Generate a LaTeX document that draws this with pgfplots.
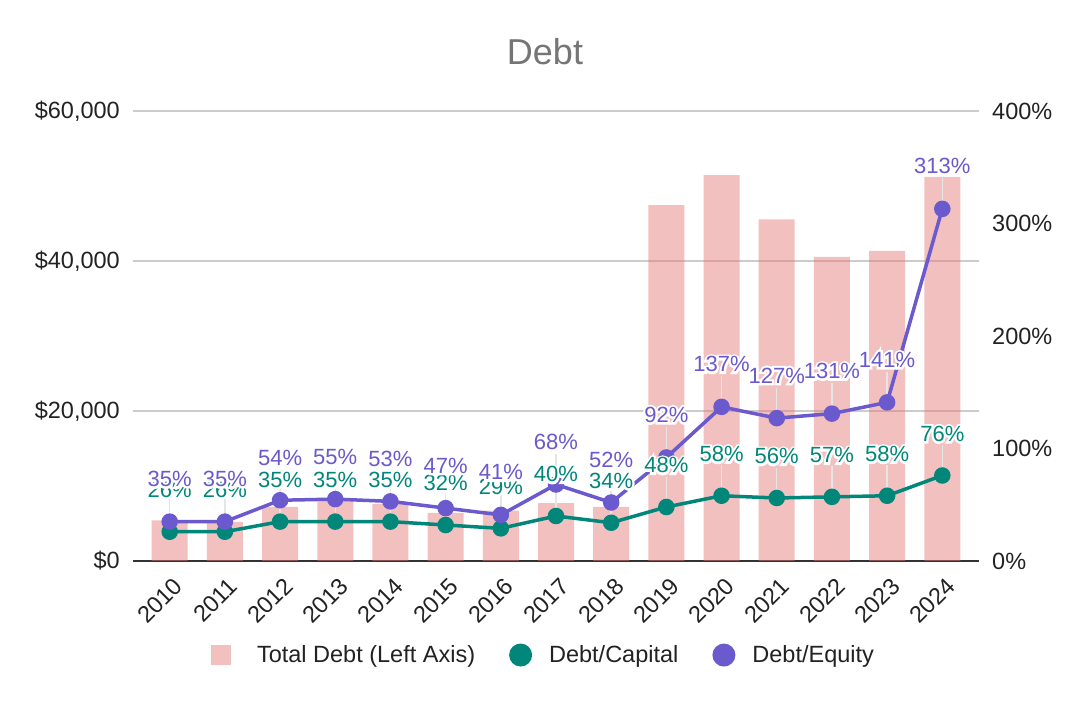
\documentclass[border=0pt]{standalone}
\usepackage{pgfplots}
\usepackage{pgfplotstable}
\pgfplotsset{compat=1.18}
\usepackage{fontspec}
\setmainfont{Liberation Sans}
\newfontfamily\halofont[FakeBold=20]{Liberation Sans}
\definecolor{barc}{HTML}{E57373}
\definecolor{dcc}{HTML}{00877A}
\definecolor{dec}{HTML}{6A5ACD}
\definecolor{gridc}{HTML}{CCCCCC}
\definecolor{titlec}{HTML}{757575}
\definecolor{axc}{HTML}{333333}
\definecolor{txtc}{HTML}{222222}

\pgfplotstableread{
x year debt dc de
0 2010 5400 26 35
1 2011 5200 26 35
2 2012 7200 35 54
3 2013 8000 35 55
4 2014 7600 35 53
5 2015 6400 32 47
6 2016 6700 29 41
7 2017 7700 40 68
8 2018 7200 34 52
9 2019 47450 48 92
10 2020 51450 58 137
11 2021 45550 56 127
12 2022 40550 57 131
13 2023 41350 58 141
14 2024 51200 76 313
}\data

\newcommand{\fs}{\fontsize{23.5}{28}\selectfont}
\newcommand{\fl}{\fontsize{22}{26}\selectfont}
\newcommand{\fh}{\halofont\fontsize{22}{26}\selectfont}
\newcommand{\lab}{\pgfmathprintnumber[fixed,precision=0,assume math mode=true]{\pgfplotspointmeta}\%}

\begin{document}
\begin{tikzpicture}[x=1pt,y=1pt]
\useasboundingbox (0,0) rectangle (1088,702);
\node[font=\fontsize{36}{42}\selectfont, text=titlec, anchor=base] at (545,637) {Debt};

\begin{axis}[
  at={(133pt,141pt)}, anchor=south west,
  scale only axis, width=846pt, height=450pt,
  xmin=-0.665, xmax=14.665, ymin=0, ymax=60000,
  axis x line*=bottom, axis y line*=left,
  x axis line style={draw=axc, line width=2pt, -},
  y axis line style={draw=none},
  major tick length=0pt,
  xtick={0,...,14},
  xticklabels={2010,2011,2012,2013,2014,2015,2016,2017,2018,2019,2020,2021,2022,2023,2024},
  xticklabel style={font=\fs, text=txtc, anchor=east, rotate=45, inner sep=0pt, xshift=-8.6pt, yshift=-21pt},
  ytick={0,20000,40000,60000},
  yticklabels={\$0,{\$20,000},{\$40,000},{\$60,000}},
  yticklabel style={font=\fs, text=txtc, inner sep=0pt, xshift=-13pt},
  ymajorgrids, major grid style={draw=gridc, line width=1.3pt},
  scaled y ticks=false,
]
\addplot[ybar, bar width=36pt, fill=barc, fill opacity=0.45, draw=none] table[x=x, y=debt] {\data};
\end{axis}

\begin{axis}[
  at={(133pt,141pt)}, anchor=south west,
  scale only axis, width=846pt, height=450pt,
  xmin=-0.665, xmax=14.665, ymin=0, ymax=400,
  axis x line=none, axis y line*=right,
  y axis line style={draw=none},
  major tick length=0pt,
  ytick={0,100,200,300,400},
  yticklabels={0\%,100\%,200\%,300\%,400\%},
  yticklabel style={font=\fs, text=txtc, inner sep=0pt, xshift=13pt},
  clip=false,
  legend style={at={(0.484,-0.209)}, anchor=center, draw=none, fill=none, font=\fs, text=txtc,
    nodes={inner sep=0pt},
    legend columns=3, /tikz/every even column/.append style={column sep=34pt},
    /tikz/every odd column/.append style={column sep=0pt}},
  legend cell align=left,
]
\addlegendimage{legend image code/.code={\fill[draw=none, fill=barc, fill opacity=0.45] (0pt,-10pt) rectangle (20pt,10pt); \path[draw=none] (0pt,0pt) -- (46pt,0pt);}}
\addlegendentry{Total Debt (Left Axis)}
\addlegendimage{legend image code/.code={\fill[draw=none, fill=dcc] (11.5pt,0pt) circle (11.5pt); \path[draw=none] (0pt,0pt) -- (40pt,0pt);}}
\addlegendentry{Debt/Capital}
\addlegendimage{legend image code/.code={\fill[draw=none, fill=dec] (11.5pt,0pt) circle (11.5pt); \path[draw=none] (0pt,0pt) -- (40pt,0pt);}}
\addlegendentry{Debt/Equity}
% leader lines
\addplot[draw=none, forget plot, error bars/.cd, y dir=plus, y fixed=27, error bar style={draw=black!10, line width=1.5pt}, error mark=none] table[x=x, y=dc] {\data};
\addplot[draw=none, forget plot, error bars/.cd, y dir=plus, y fixed=27, error bar style={draw=black!10, line width=1.5pt}, error mark=none] table[x=x, y=de] {\data};
% lines
\addplot[color=dcc, line width=3.5pt, mark=*, mark size=6.5pt, forget plot] table[x=x, y=dc] {\data};
\addplot[color=dec, line width=3.5pt, mark=*, mark size=6.5pt, forget plot] table[x=x, y=de] {\data};
% labels with white halo
\addplot[draw=none, mark=none, forget plot, nodes near coords={\lab},
  every node near coord/.append style={font=\fh, text=white, anchor=base, yshift=34pt, inner sep=0pt}]
  table[x=x, y=dc] {\data};
\addplot[draw=none, mark=none, forget plot, nodes near coords={\lab},
  every node near coord/.append style={font=\fl, text=dcc, anchor=base, yshift=34pt, inner sep=0pt}]
  table[x=x, y=dc] {\data};
\addplot[draw=none, mark=none, forget plot, nodes near coords={\lab},
  every node near coord/.append style={font=\fh, text=white, anchor=base, yshift=35pt, inner sep=0pt}]
  table[x=x, y=de] {\data};
\addplot[draw=none, mark=none, forget plot, nodes near coords={\lab},
  every node near coord/.append style={font=\fl, text=dec, anchor=base, yshift=35pt, inner sep=0pt}]
  table[x=x, y=de] {\data};
\end{axis}
\end{tikzpicture}
\end{document}
